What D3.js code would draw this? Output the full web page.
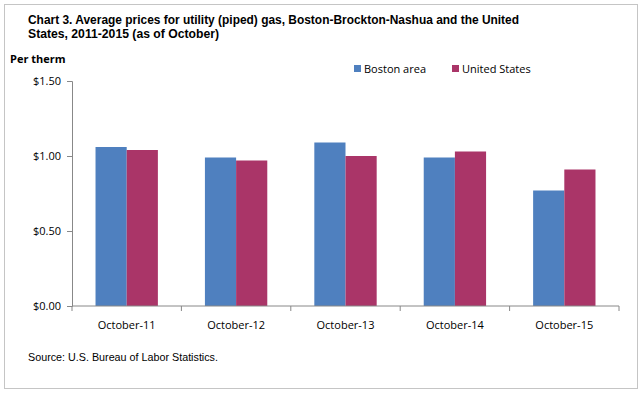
<!DOCTYPE html>
<html>
<head>
<meta charset="utf-8">
<script src="https://cdn.jsdelivr.net/npm/d3@7"></script>
<style>
    body { margin: 0; background: #fff; }
    .title { font-family: "Liberation Sans", Arial, sans-serif; font-weight: bold; font-size: 12.5px; fill: #000; }
    .unit { font-family: "Open Sans", Lato, sans-serif; font-weight: bold; font-size: 11px; }
    .tick text, .legend text { font-family: "Open Sans", Lato, sans-serif; font-size: 11px; fill: #000; }
    .source { font-family: "Liberation Sans", Arial, sans-serif; font-size: 11.5px; }
</style>
</head>
<body>
<script>
(function() {

    //chart data
    var categories = ["October-11", "October-12", "October-13", "October-14", "October-15"];
    var seriesNames = ["Boston area", "United States"];
    var bostonValues = [1.06, 0.99, 1.09, 0.99, 0.77];
    var usValues = [1.04, 0.97, 1.00, 1.03, 0.91];
    var yTicks = [0, 0.5, 1.0, 1.5];
    var colors = ["#4f80bf", "#aa3568"];

    var width = 643, height = 394;
    var margin = {left: 72, right: 24, top: 81, bottom: 88};

    var svg = d3.select("body").append("svg")
        .attr("width", width)
        .attr("height", height);

    //outer frame
    svg.append("rect")
        .attr("x", 4.5).attr("y", 4.5)
        .attr("width", 633).attr("height", 384)
        .attr("fill", "none")
        .attr("stroke", "#8a8a8a")
        .attr("stroke-dasharray", "1,1");

    //title (squeezed to mimic a narrow face)
    var title = svg.append("text").attr("class", "title");
    title.append("tspan").attr("x", 28).attr("y", 24)
        .attr("textLength", 491).attr("lengthAdjust", "spacingAndGlyphs")
        .text("Chart 3. Average prices for utility (piped) gas, Boston-Brockton-Nashua and the United");
    title.append("tspan").attr("x", 28).attr("y", 38)
        .attr("textLength", 191).attr("lengthAdjust", "spacingAndGlyphs")
        .text("States, 2011-2015 (as of October)");

    svg.append("text").attr("class", "unit")
        .attr("x", 10).attr("y", 63)
        .text("Per therm");

    //scales
    var x0 = d3.scaleBand()
        .domain(categories)
        .range([margin.left, width - margin.right])
        .paddingInner(0.43)
        .paddingOuter(0.215);

    var x1 = d3.scaleBand()
        .domain(seriesNames)
        .range([0, x0.bandwidth()]);

    var y = d3.scaleLinear()
        .domain([0, 1.5])
        .range([height - margin.bottom, margin.top]);

    //y axis
    var yAxis = d3.axisLeft(y)
        .tickValues(yTicks)
        .tickSize(5)
        .tickPadding(6)
        .tickFormat(d3.format("$.2f"));

    var gy = svg.append("g")
        .attr("class", "axis")
        .attr("transform", "translate(" + margin.left + ",0)")
        .call(yAxis);
    gy.select(".domain").attr("stroke", "#888");
    gy.selectAll(".tick line").attr("stroke", "#888");

    //bars
    var data = categories.map(function(c, i) {
        return {cat: c, values: [bostonValues[i], usValues[i]]};
    });

    var groups = svg.selectAll(".group")
        .data(data)
        .enter()
        .append("g")
        .attr("class", "group")
        .attr("transform", function(d) { return "translate(" + x0(d.cat) + ",0)"; });

    groups.selectAll("rect")
        .data(function(d) {
            return d.values.map(function(v, j) { return {name: seriesNames[j], value: v, idx: j}; });
        })
        .enter()
        .append("rect")
        .attr("x", function(d) { return x1(d.name); })
        .attr("y", function(d) { return y(d.value); })
        .attr("width", x1.bandwidth())
        .attr("height", function(d) { return y(0) - y(d.value); })
        .attr("fill", function(d) { return colors[d.idx]; });

    //x axis with ticks between categories
    var step = x0.step();
    var gx = svg.append("g")
        .attr("transform", "translate(0," + y(0) + ")");
    gx.append("line")
        .attr("x1", margin.left).attr("x2", width - margin.right)
        .attr("stroke", "#888");
    var xEdges = d3.range(categories.length + 1).map(function(i) { return margin.left + i * step; });
    gx.selectAll(".xtick")
        .data(xEdges)
        .enter()
        .append("line")
        .attr("x1", function(d) { return d; })
        .attr("x2", function(d) { return d; })
        .attr("y1", 0).attr("y2", 5)
        .attr("stroke", "#888");
    gx.selectAll(".tick")
        .data(categories)
        .enter()
        .append("g")
        .attr("class", "tick")
        .append("text")
        .attr("x", function(d) { return x0(d) + x0.bandwidth() / 2; })
        .attr("y", 23)
        .attr("text-anchor", "middle")
        .text(function(d) { return d; });

    //legend
    var legendX = [354, 452];
    var legend = svg.selectAll(".legend")
        .data(seriesNames)
        .enter()
        .append("g")
        .attr("class", "legend")
        .attr("transform", function(d, i) { return "translate(" + legendX[i] + ",65)"; });
    legend.append("rect")
        .attr("width", 7).attr("height", 7)
        .attr("fill", function(d, i) { return colors[i]; });
    legend.append("text")
        .attr("x", 10).attr("y", 7.5)
        .text(function(d) { return d; });

    //source note
    svg.append("text").attr("class", "source")
        .attr("x", 28).attr("y", 361)
        .attr("textLength", 190).attr("lengthAdjust", "spacingAndGlyphs")
        .text("Source: U.S. Bureau of Labor Statistics.");

})();
</script>
</body>
</html>
